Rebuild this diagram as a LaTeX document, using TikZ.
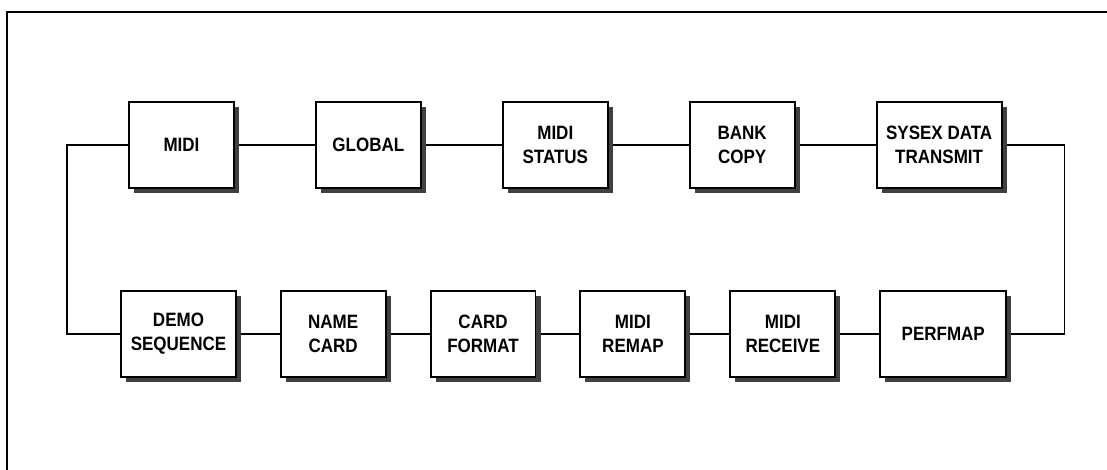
\documentclass[tikz,border=0pt]{standalone}
\usepackage{fontspec}
\setmainfont{Liberation Sans}[FakeStretch=0.88]
\usetikzlibrary{positioning, shadows, backgrounds}

\begin{document}
\begin{tikzpicture}[x=0.02cm, y=-0.02cm, node distance=1.6cm,
    block/.style={draw, line width=1.1pt, fill=white, align=center,
        minimum width=2.1cm, minimum height=1.72cm, inner xsep=0.19cm,
        font=\fontsize{11}{13.6}\selectfont\bfseries,
        drop shadow={shadow xshift=0.1cm, shadow yshift=-0.1cm, fill=black!75, opacity=1}},
    link/.style={line width=0.8pt}]
    \useasboundingbox (0,0) rectangle (1107,470);

    % top row
    \node [block] at (181.5,145) (midi) {MIDI};
    \node [block, right=of midi] (global) {GLOBAL};
    \node [block, right=of global] (status) {MIDI\\STATUS};
    \node [block, right=of status] (bank) {BANK\\COPY};
    \node [block, right=of bank] (sysex) {SYSEX DATA\\TRANSMIT};

    % bottom row
    \node [block] at (178.5,334) (demo) {DEMO\\SEQUENCE};
    \node [block, right=0.86cm of demo] (name) {NAME\\CARD};
    \node [block, right=0.86cm of name] (format) {CARD\\FORMAT};
    \node [block, right=0.86cm of format] (remap) {MIDI\\REMAP};
    \node [block, right=0.86cm of remap] (receive) {MIDI\\RECEIVE};
    \node [block, right=0.86cm of receive, minimum width=2.52cm] (perfmap) {PERFMAP};

    \begin{scope}[on background layer]
    % frame
    \draw [line width=1.3pt] (1107,12) -- (7,12) -- (7,470);

    \draw [link] (midi) -- (global);
    \draw [link] (global) -- (status);
    \draw [link] (status) -- (bank);
    \draw [link] (bank) -- (sysex);

    \draw [link] (demo) -- (name);
    \draw [link] (name) -- (format);
    \draw [link] (format) -- (remap);
    \draw [link] (remap) -- (receive);
    \draw [link] (receive) -- (perfmap);

    % closing the loop
    \draw [link] (sysex.east) -- ++(62,0) |- (perfmap.east);
    \draw [link] (midi.west) -- ++(-61,0) |- (demo.west);
    \end{scope}
\end{tikzpicture}
\end{document}
